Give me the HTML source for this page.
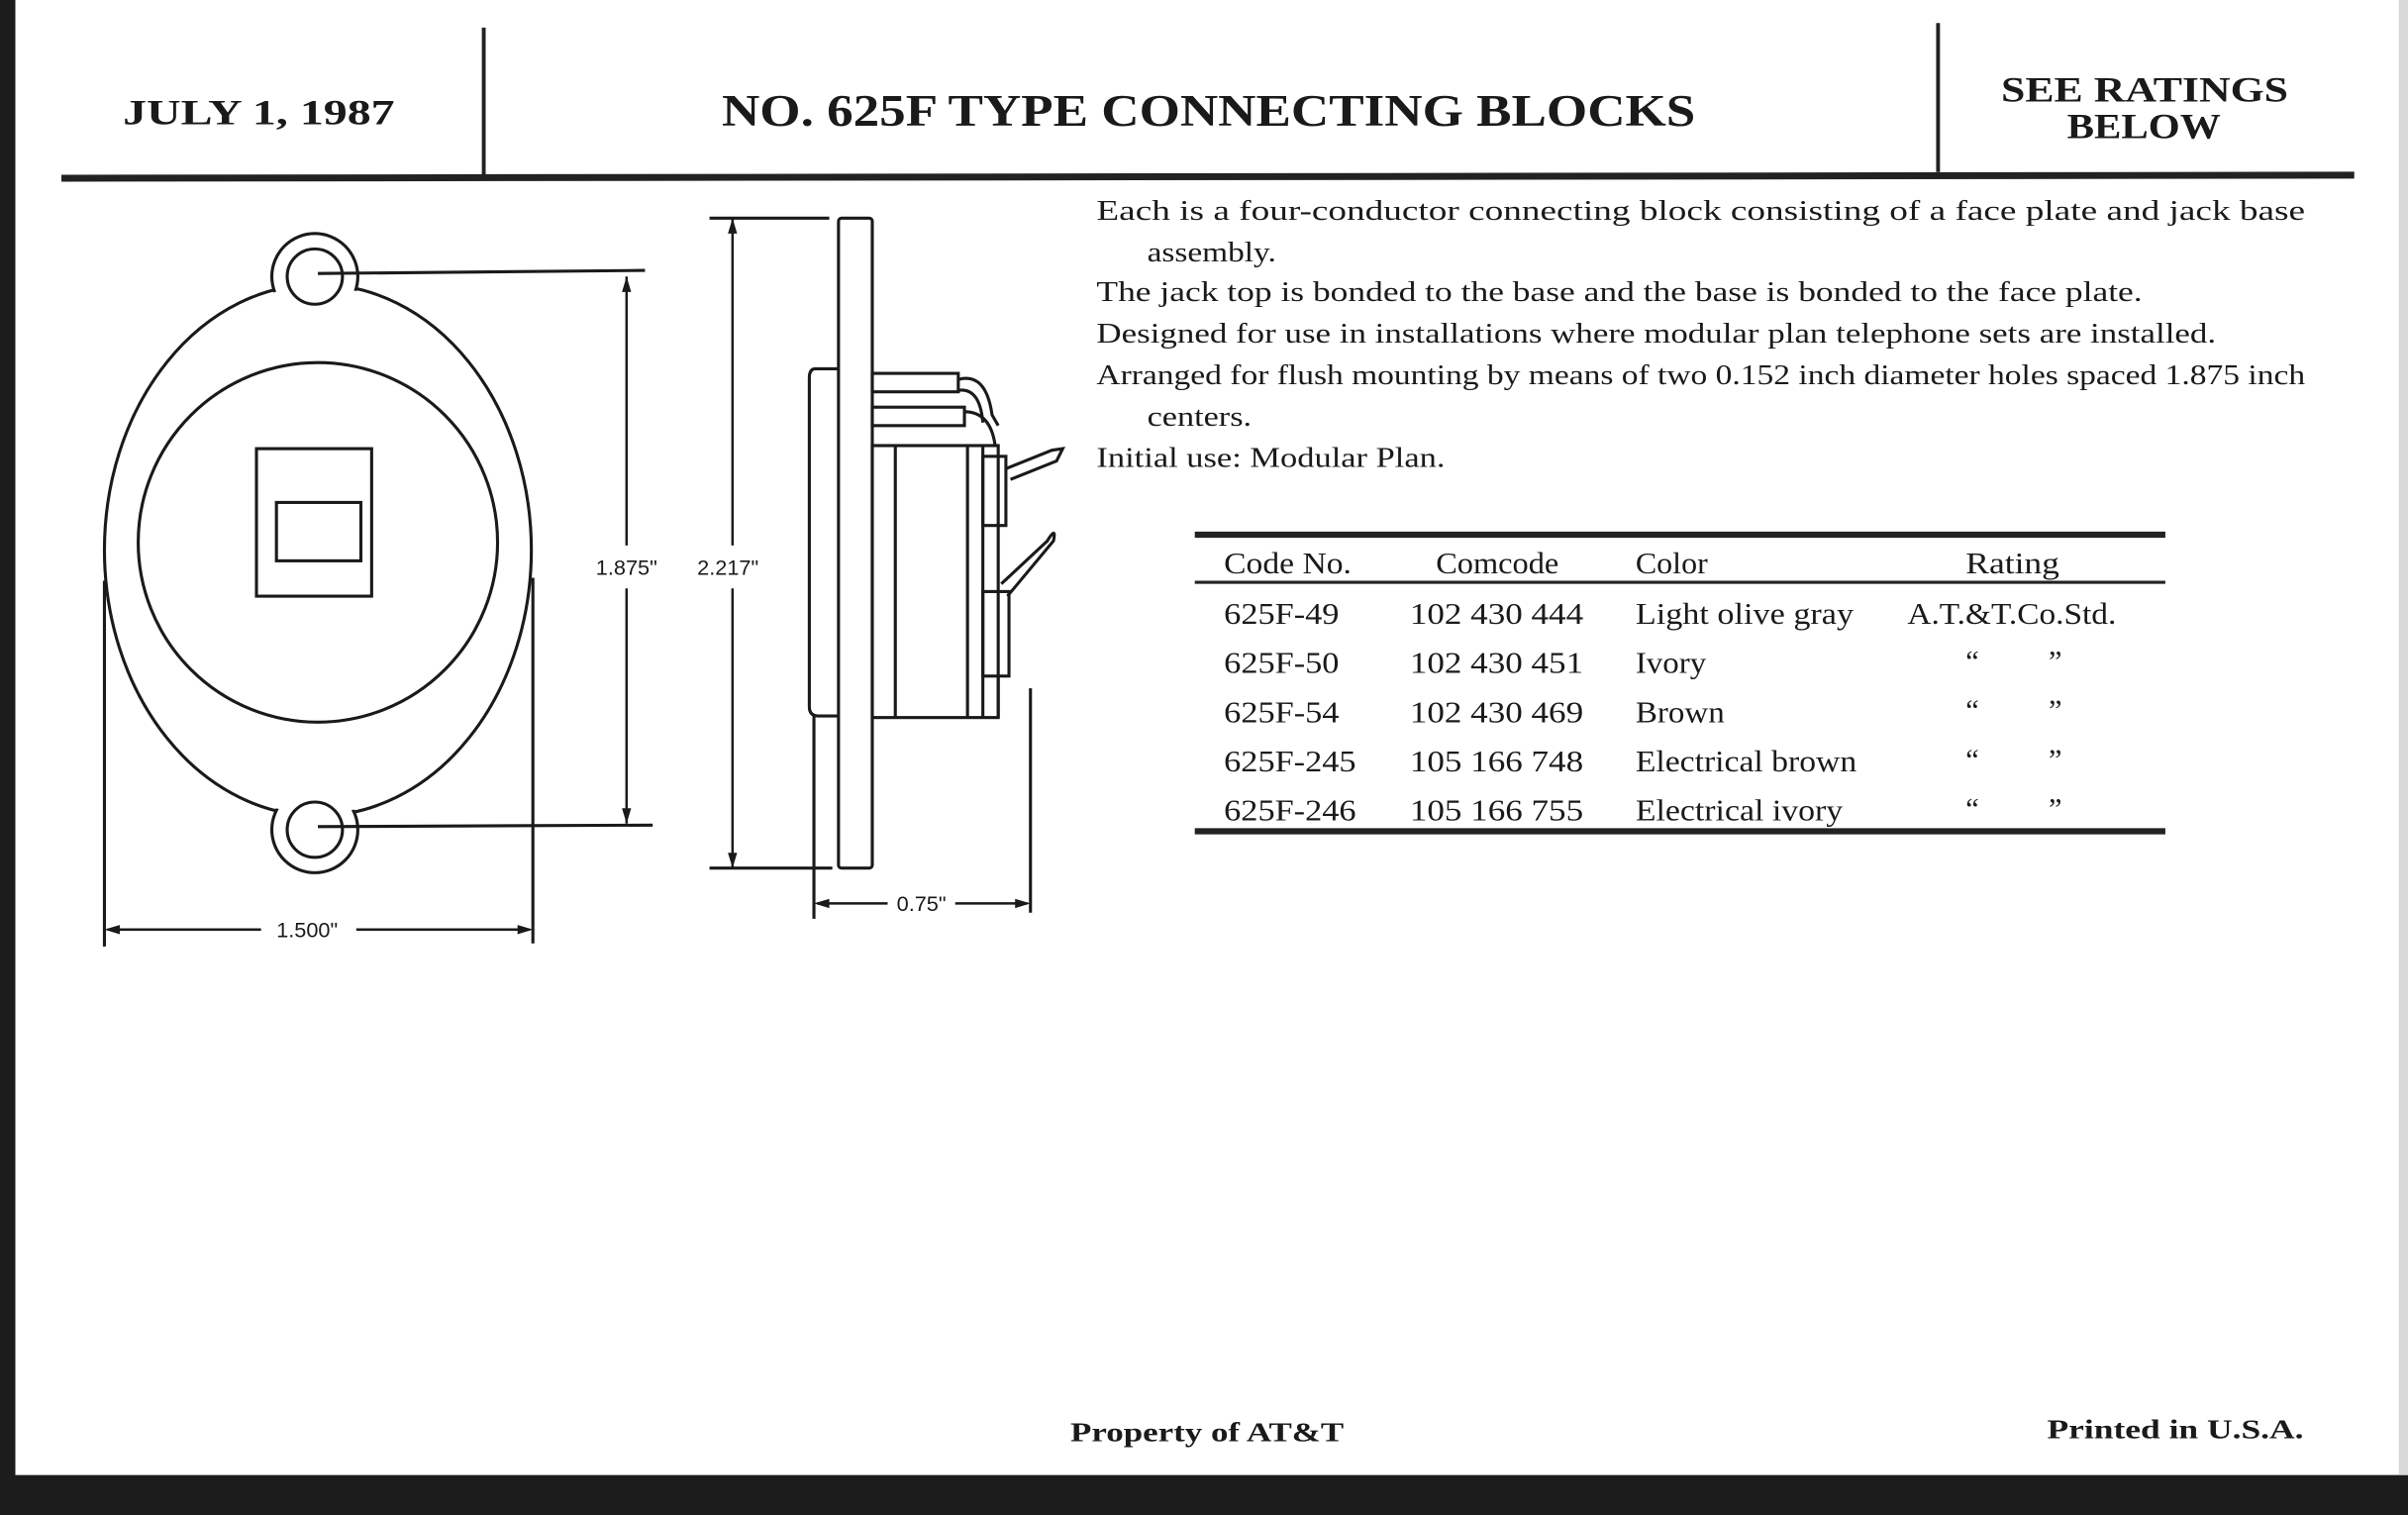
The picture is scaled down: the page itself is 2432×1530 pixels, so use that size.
<!DOCTYPE html>
<html><head><meta charset="utf-8"><style>
html,body{margin:0;padding:0;background:#fff;}
svg{display:block;}
text{font-family:"Liberation Serif",serif;fill:#1a1a1a;}
.b{font-weight:bold;}
.s{font-family:"Liberation Sans",sans-serif;}
</style></head><body>
<svg width="2432" height="1530" viewBox="0 0 1568 986" preserveAspectRatio="none" xmlns="http://www.w3.org/2000/svg">
<rect width="1568" height="986" fill="#fff"/>
<rect x="0" y="0" width="10" height="986" fill="#1c1c1c"/>
<rect x="0" y="960" width="1568" height="26" fill="#1c1c1c"/>
<rect x="1562" y="0" width="6" height="960" fill="#d8d8d8"/>
<!-- header -->
<line x1="315" y1="18" x2="315" y2="114" stroke="#222" stroke-width="2.5"/>
<line x1="1262" y1="15" x2="1262" y2="112" stroke="#222" stroke-width="2.5"/>
<line x1="40" y1="116" x2="1533" y2="114" stroke="#222" stroke-width="4.5"/>
<text x="80" y="81" class="b" font-size="23" textLength="177" lengthAdjust="spacingAndGlyphs">JULY 1, 1987</text>
<text x="470" y="82" class="b" font-size="29" textLength="634" lengthAdjust="spacingAndGlyphs">NO. 625F TYPE CONNECTING BLOCKS</text>
<text x="1303" y="66" class="b" font-size="23" textLength="187" lengthAdjust="spacingAndGlyphs">SEE RATINGS</text>
<text x="1346" y="90" class="b" font-size="23" textLength="100" lengthAdjust="spacingAndGlyphs">BELOW</text>
<!-- paragraph -->
<g font-size="18.5">
<text x="714" y="143" textLength="787" lengthAdjust="spacingAndGlyphs">Each is a four-conductor connecting block consisting of a face plate and jack base</text>
<text x="747" y="170" textLength="84" lengthAdjust="spacingAndGlyphs">assembly.</text>
<text x="714" y="196" textLength="681" lengthAdjust="spacingAndGlyphs">The jack top is bonded to the base and the base is bonded to the face plate.</text>
<text x="714" y="223" textLength="729" lengthAdjust="spacingAndGlyphs">Designed for use in installations where modular plan telephone sets are installed.</text>
<text x="714" y="250" textLength="787" lengthAdjust="spacingAndGlyphs">Arranged for flush mounting by means of two 0.152 inch diameter holes spaced 1.875 inch</text>
<text x="747" y="277" textLength="68" lengthAdjust="spacingAndGlyphs">centers.</text>
<text x="714" y="304" textLength="227" lengthAdjust="spacingAndGlyphs">Initial use: Modular Plan.</text>
</g>
<!-- table -->
<line x1="778" y1="348" x2="1410" y2="348" stroke="#222" stroke-width="4"/>
<line x1="778" y1="379" x2="1410" y2="379" stroke="#222" stroke-width="2"/>
<line x1="778" y1="541" x2="1410" y2="541" stroke="#222" stroke-width="4"/>
<g font-size="19.5">
<text x="797" y="373" textLength="83" lengthAdjust="spacingAndGlyphs">Code No.</text><text x="935" y="373" textLength="80" lengthAdjust="spacingAndGlyphs">Comcode</text><text x="1065" y="373" textLength="47" lengthAdjust="spacingAndGlyphs">Color</text><text x="1280" y="373" textLength="61" lengthAdjust="spacingAndGlyphs">Rating</text>
<text x="797" y="406" textLength="75" lengthAdjust="spacingAndGlyphs">625F-49</text><text x="918" y="406" textLength="113" lengthAdjust="spacingAndGlyphs">102 430 444</text><text x="1065" y="406" textLength="142" lengthAdjust="spacingAndGlyphs">Light olive gray</text><text x="1242" y="406" textLength="136" lengthAdjust="spacingAndGlyphs">A.T.&amp;T.Co.Std.</text>
<text x="797" y="438" textLength="75" lengthAdjust="spacingAndGlyphs">625F-50</text><text x="918" y="438" textLength="113" lengthAdjust="spacingAndGlyphs">102 430 451</text><text x="1065" y="438" textLength="46" lengthAdjust="spacingAndGlyphs">Ivory</text>
<text x="797" y="470" textLength="75" lengthAdjust="spacingAndGlyphs">625F-54</text><text x="918" y="470" textLength="113" lengthAdjust="spacingAndGlyphs">102 430 469</text><text x="1065" y="470" textLength="58" lengthAdjust="spacingAndGlyphs">Brown</text>
<text x="797" y="502" textLength="86" lengthAdjust="spacingAndGlyphs">625F-245</text><text x="918" y="502" textLength="113" lengthAdjust="spacingAndGlyphs">105 166 748</text><text x="1065" y="502" textLength="144" lengthAdjust="spacingAndGlyphs">Electrical brown</text>
<text x="797" y="534" textLength="86" lengthAdjust="spacingAndGlyphs">625F-246</text><text x="918" y="534" textLength="113" lengthAdjust="spacingAndGlyphs">105 166 755</text><text x="1065" y="534" textLength="135" lengthAdjust="spacingAndGlyphs">Electrical ivory</text>
<g><text x="1280" y="437">“</text><text x="1334" y="437">”</text>
<text x="1280" y="469">“</text><text x="1334" y="469">”</text>
<text x="1280" y="501">“</text><text x="1334" y="501">”</text>
<text x="1280" y="533">“</text><text x="1334" y="533">”</text></g>
</g>
<!-- footer -->
<text x="697" y="938" class="b" font-size="18" textLength="178" lengthAdjust="spacingAndGlyphs">Property of AT&amp;T</text>
<text x="1333" y="936" class="b" font-size="18" textLength="167" lengthAdjust="spacingAndGlyphs">Printed in U.S.A.</text>
<!-- front view -->
<g fill="none" stroke="#1a1a1a" stroke-width="2">
<ellipse cx="207" cy="358" rx="139" ry="173"/>
<circle cx="205" cy="180" r="28" fill="#fff"/>
<circle cx="205" cy="540" r="28" fill="#fff"/>
<ellipse cx="207" cy="358" rx="137.5" ry="171.5" fill="#fff" stroke="none"/>
<circle cx="205" cy="180" r="18" fill="#fff"/>
<circle cx="205" cy="540" r="18" fill="#fff"/>
<circle cx="207" cy="353" r="117"/>
<rect x="167" y="292" width="75" height="96"/>
<rect x="180" y="327" width="55" height="38"/>
<line x1="68" y1="378" x2="68" y2="616"/>
<line x1="347" y1="376" x2="347" y2="614"/>
<line x1="70" y1="605" x2="170" y2="605" stroke-width="1.6"/>
<line x1="232" y1="605" x2="345" y2="605" stroke-width="1.6"/>
<line x1="207" y1="178" x2="420" y2="176"/>
<line x1="207" y1="538" x2="425" y2="537"/>
<line x1="408" y1="180" x2="408" y2="355" stroke-width="1.6"/>
<line x1="408" y1="383" x2="408" y2="536" stroke-width="1.6"/>
<line x1="462" y1="142" x2="540" y2="142"/>
<line x1="462" y1="565" x2="542" y2="565"/>
<line x1="477" y1="142" x2="477" y2="355" stroke-width="1.6"/>
<line x1="477" y1="383" x2="477" y2="565" stroke-width="1.6"/>
<!-- side view -->
<rect x="546" y="142" width="22" height="423" rx="2"/>
<path d="M546,240 L531,240 Q527,240 527,246 L527,460 Q527,466 533,466 L546,466"/>
<line x1="530" y1="466" x2="530" y2="598"/>
<rect x="568" y="290" width="82" height="177"/>
<line x1="583" y1="290" x2="583" y2="467"/>
<line x1="630" y1="290" x2="630" y2="467"/>
<line x1="640" y1="290" x2="640" y2="467"/>
<rect x="568" y="243" width="56" height="12"/>
<rect x="568" y="265" width="60" height="12"/>
<path d="M624,247 Q642,242 646,270 L650,277 M624,254 Q638,252 640,275"/>
<path d="M628,268 Q645,268 648,290"/>
<rect x="640" y="297" width="15" height="45"/>
<path d="M655,305 L685,293 L692,292 L688,300 L658,312"/>
<rect x="640" y="385" width="17" height="55"/>
<path d="M652,380 L682,352 Q688,342 686,352 L656,388"/>
<line x1="650" y1="440" x2="650" y2="467"/>
<line x1="671" y1="448" x2="671" y2="594"/>
<line x1="532" y1="588" x2="578" y2="588" stroke-width="1.6"/>
<line x1="622" y1="588" x2="669" y2="588" stroke-width="1.6"/>
</g>
<g fill="#1a1a1a">
<path d="M68,605 l10,-3 v6 z"/><path d="M347,605 l-10,-3 v6 z"/>
<path d="M408,180 l-3,10 h6 z"/><path d="M408,536 l-3,-10 h6 z"/>
<path d="M477,142 l-3,10 h6 z"/><path d="M477,565 l-3,-10 h6 z"/>
<path d="M530,588 l10,-3 v6 z"/><path d="M671,588 l-10,-3 v6 z"/>
</g>
<g font-size="14">
<text x="200" y="610" text-anchor="middle" class="s">1.500"</text>
<text x="408" y="374" text-anchor="middle" class="s">1.875"</text>
<text x="474" y="374" text-anchor="middle" class="s">2.217"</text>
<text x="600" y="593" text-anchor="middle" class="s">0.75"</text>
</g>
</svg>
</body></html>
